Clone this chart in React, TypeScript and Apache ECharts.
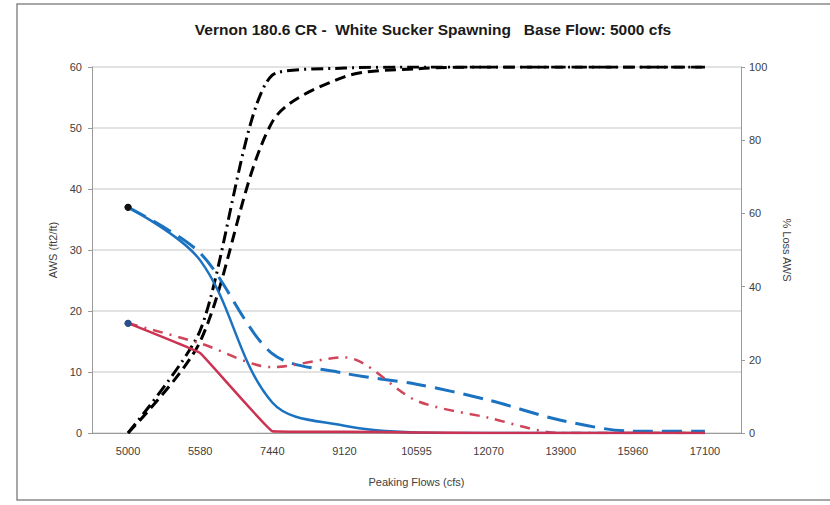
import React, { useEffect, useRef } from "react";
import * as echarts from "echarts";

const categories = ["5000", "5580", "7440", "9120", "10595", "12070", "13900", "15960", "17100"];
const blueSolid = [37, 28.3, 5.0, 1.2, 0.1, 0, 0, 0, 0];
const blueDashed = [37, 29.5, 13.0, 9.8, 8.0, 5.4, 2.1, 0.3, 0.3];
const redSolid = [18, 13.1, 0.3, 0.2, 0.1, 0, 0, 0, 0];
const redDashDot = [18, 14.7, 10.8, 12.4, 5.3, 2.5, 0, 0, 0];
const lossDashDot = [0, 28, 97.8, 99.7, 100, 100, 100, 100, 100];
const lossDashed = [0, 25, 85, 97.3, 99.5, 100, 100, 100, 100];

const leftTicks = { min: 0, max: 60, interval: 10 };
const rightTicks = { min: 0, max: 100, interval: 20 };

const FONT = "'Liberation Sans', Arial, sans-serif";

function withMarker(values: number[], color: string) {
  return values.map((v, i) =>
    i === 0
      ? { value: v, symbol: "circle", symbolSize: 7, itemStyle: { color } }
      : { value: v, symbol: "none" }
  );
}

export default function App() {
  const ref = useRef<HTMLDivElement>(null);
  useEffect(() => {
    if (!ref.current) return;
    const chart = echarts.init(ref.current, undefined, { renderer: "svg" });
    const blue = "#1b72c0";
    const red = "#cc3352";
    chart.setOption({
      animation: false,
      backgroundColor: "#ffffff",
      title: {
        text: "Vernon 180.6 CR -  White Sucker Spawning   Base Flow: 5000 cfs",
        left: 428,
        top: 16,
        textAlign: "center",
        textStyle: { fontFamily: FONT, fontSize: 15.5, fontWeight: "bold", color: "#1a1a1a" },
      },
      graphic: [
        {
          type: "rect",
          shape: { x: 17, y: 4, width: 830, height: 496 },
          style: { fill: "none", stroke: "#8a8a8a", lineWidth: 1.5 },
          silent: true,
        },
      ],
      grid: { left: 92, right: 89, top: 67, bottom: 72 },
      xAxis: {
        type: "category",
        data: categories,
        boundaryGap: true,
        name: "Peaking Flows (cfs)",
        nameLocation: "middle",
        nameGap: 43,
        nameTextStyle: { fontFamily: FONT, fontSize: 11, color: "#404040" },
        axisLine: { lineStyle: { color: "#9a9a9a" } },
        axisTick: { show: false },
        axisLabel: { fontFamily: FONT, fontSize: 11, color: "#404040", margin: 12 },
      },
      yAxis: [
        {
          type: "value",
          ...leftTicks,
          name: "AWS (ft2/ft)",
          nameLocation: "middle",
          nameGap: 28,
          nameRotate: 90,
          nameTextStyle: { fontFamily: FONT, fontSize: 11, color: "#404040" },
          axisLine: { show: true, lineStyle: { color: "#9a9a9a" } },
          axisTick: { show: true, length: 4, lineStyle: { color: "#9a9a9a" } },
          axisLabel: { fontFamily: FONT, fontSize: 11, color: "#404040", margin: 10 },
          splitLine: { show: true, lineStyle: { color: "#d9d9d9", width: 1.5 } },
        },
        {
          type: "value",
          ...rightTicks,
          name: "% Loss AWS",
          nameLocation: "middle",
          nameGap: 40,
          nameRotate: -90,
          nameTextStyle: { fontFamily: FONT, fontSize: 11, color: "#404040" },
          axisLine: { show: true, lineStyle: { color: "#9a9a9a" } },
          axisTick: { show: true, length: 4, lineStyle: { color: "#9a9a9a" } },
          axisLabel: { fontFamily: FONT, fontSize: 11, color: "#404040", margin: 8 },
          splitLine: { show: false },
        },
      ],
      series: [
        {
          type: "line",
          name: "Loss dash-dot",
          yAxisIndex: 1,
          data: lossDashDot,
          smooth: 0.25,
          symbol: "none",
          lineStyle: { color: "#000000", width: 3, type: [12, 5, 2, 5] },
          z: 3,
        },
        {
          type: "line",
          name: "Loss dashed",
          yAxisIndex: 1,
          data: lossDashed,
          smooth: 0.3,
          symbol: "none",
          lineStyle: { color: "#000000", width: 3, type: [11, 6] },
          z: 3,
        },
        {
          type: "line",
          name: "Blue dashed",
          data: withMarker(blueDashed, "#111111"),
          smooth: 0.3,
          lineStyle: { color: blue, width: 3, type: [20, 9] },
          z: 4,
        },
        {
          type: "line",
          name: "Blue solid",
          data: withMarker(blueSolid, "#111111"),
          smooth: 0.35,
          lineStyle: { color: blue, width: 2.5 },
          z: 5,
        },
        {
          type: "line",
          name: "Red dash-dot",
          data: withMarker(redDashDot, "#2a4f8a"),
          smooth: 0.3,
          lineStyle: { color: "#d04559", width: 2.5, type: [10, 7, 2, 7] },
          z: 4,
        },
        {
          type: "line",
          name: "Red solid",
          data: withMarker(redSolid, "#2a4f8a"),
          smooth: 0.05,
          lineStyle: { color: red, width: 2.5 },
          z: 5,
        },
      ],
    });
    return () => chart.dispose();
  }, []);
  return <div ref={ref} style={{ width: 830, height: 505, position: "absolute", left: 0, top: 0 }} />;
}
